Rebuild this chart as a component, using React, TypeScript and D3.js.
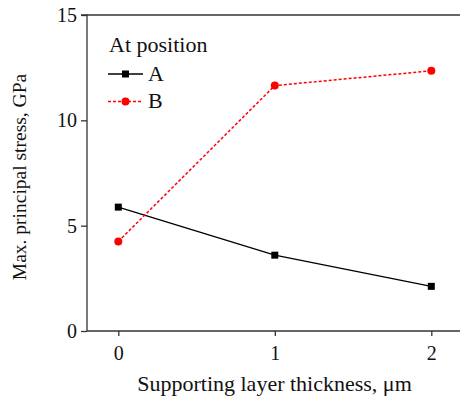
import React, { useEffect, useRef } from 'react';
import * as d3 from 'd3';

const thickness = [0, 1, 2];
const stressA = [5.88, 3.6, 2.12];
const stressB = [4.25, 11.65, 12.35];
const yTicks = [0, 5, 10, 15];
const xTicks = [0, 1, 2];

const font = '"Liberation Serif", "Times New Roman", serif';

function App() {
  const svgRef = useRef<SVGSVGElement>(null);

  useEffect(() => {
    const svg = d3.select(svgRef.current);
    svg.selectAll('*').remove();

    const left = 87, top = 15, bottom = 331, right = 462.6;
    const x = d3.scaleLinear().domain([-0.2, 2.2]).range([left, right]);
    const y = d3.scaleLinear().domain([0, 15]).range([bottom, top]);

    // frame
    svg.append('line').attr('x1', left).attr('x2', 460).attr('y1', top).attr('y2', top)
      .attr('stroke', '#333').attr('stroke-width', 1.3);

    const yAxis = svg.append('g').attr('transform', `translate(${left},0)`)
      .call(d3.axisLeft(y).tickValues(yTicks).tickSize(6).tickPadding(4));
    const xAxis = svg.append('g').attr('transform', `translate(0,${bottom})`)
      .call(d3.axisBottom(x).tickValues(xTicks).tickSize(5).tickPadding(10).tickFormat(d3.format('d')));

    [yAxis, xAxis].forEach(a => {
      a.select('.domain').attr('stroke', '#333').attr('stroke-width', 1.3);
      a.selectAll('.tick line').attr('stroke', '#333').attr('stroke-width', 1.3);
      a.selectAll('.tick text').attr('font-family', font).attr('font-size', 20).attr('fill', '#111');
    });
    yAxis.select('.domain').attr('d', `M-6,${top}H0V${bottom}`);
    xAxis.select('.domain').attr('d', `M${left},0H460`);

    const line = d3.line<number>().x((_, i) => x(thickness[i])).y(d => y(d));

    svg.append('path').datum(stressA).attr('d', line).attr('fill', 'none')
      .attr('stroke', '#000').attr('stroke-width', 1.3);
    svg.append('path').datum(stressB).attr('d', line).attr('fill', 'none')
      .attr('stroke', '#f00').attr('stroke-width', 1.5).attr('stroke-dasharray', '3,2');

    svg.selectAll('.mA').data(stressA).join('rect')
      .attr('x', (_, i) => x(thickness[i]) - 3.5).attr('y', d => y(d) - 3.5)
      .attr('width', 7).attr('height', 7).attr('fill', '#000');
    svg.selectAll('.mB').data(stressB).join('circle')
      .attr('cx', (_, i) => x(thickness[i])).attr('cy', d => y(d))
      .attr('r', 4).attr('fill', '#f00');

    // legend
    const lg = svg.append('g').attr('font-family', font).attr('font-size', 22).attr('fill', '#111');
    lg.append('text').attr('x', 109).attr('y', 52).text('At position');
    lg.append('line').attr('x1', 108).attr('x2', 143).attr('y1', 74).attr('y2', 74)
      .attr('stroke', '#000').attr('stroke-width', 1.3);
    lg.append('rect').attr('x', 122).attr('y', 70.5).attr('width', 7).attr('height', 7).attr('fill', '#000');
    lg.append('text').attr('x', 148).attr('y', 81).text('A');
    lg.append('line').attr('x1', 108).attr('x2', 143).attr('y1', 101.5).attr('y2', 101.5)
      .attr('stroke', '#f00').attr('stroke-width', 1.5).attr('stroke-dasharray', '3,2');
    lg.append('circle').attr('cx', 125.5).attr('cy', 101.5).attr('r', 4).attr('fill', '#f00');
    lg.append('text').attr('x', 148).attr('y', 108).text('B');

    // axis titles
    svg.append('text').attr('x', 274.5).attr('y', 391).attr('text-anchor', 'middle')
      .attr('font-family', font).attr('font-size', 22).attr('fill', '#111')
      .text('Supporting layer thickness, μm');
    svg.append('text').attr('transform', 'translate(26,177) rotate(-90)').attr('text-anchor', 'middle')
      .attr('font-family', font).attr('font-size', 19.5).attr('fill', '#111')
      .text('Max. principal stress, GPa');
  }, []);

  return (
    <svg ref={svgRef} width={460} height={406}
      style={{ position: 'absolute', left: 0, top: 0, background: '#fff' }} />
  );
}

export default App;
